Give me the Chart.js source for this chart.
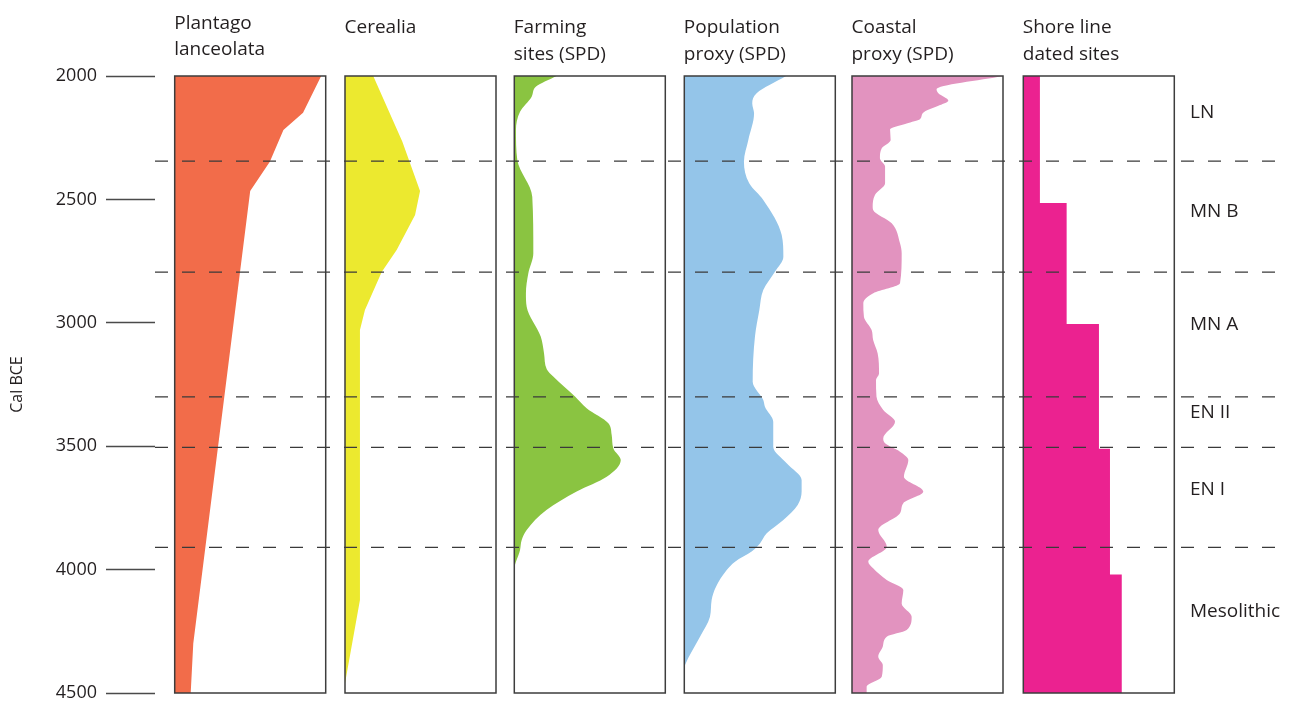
<!DOCTYPE html>
<html>
<head>
<meta charset="utf-8">
<script src="https://cdn.jsdelivr.net/npm/chart.js@4/dist/chart.umd.min.js"></script>
<style>
html,body{margin:0;padding:0;background:#fff;}
#wrap{position:relative;width:1291px;height:702px;}
canvas{display:block;}
</style>
</head>
<body>
<div id="wrap"><canvas id="c" width="1291" height="702"></canvas></div>
<script>
// ---------- DATA ----------
const yearTicks = [2000, 2500, 3000, 3500, 4000, 4500];
const axisTitle = 'Cal BCE';
const panelTitles = [
  ['Plantago', 'lanceolata'],
  ['Cerealia'],
  ['Farming', 'sites (SPD)'],
  ['Population', 'proxy (SPD)'],
  ['Coastal', 'proxy (SPD)'],
  ['Shore line', 'dated sites']
];
const periodBounds = [2345, 2795, 3300, 3505, 3910];
const periodNames = ['LN', 'MN B', 'MN A', 'EN II', 'EN I', 'Mesolithic'];
const periodLabelYears = [2150, 2551, 3009, 3365, 3677, 4172];

// values are % of panel width
const plantagoYears  = [2000, 2149, 2219, 2347, 2466, 4299, 4500];
const plantagoValues = [97, 85, 72, 63, 50, 12.3, 10.6];

const cerealiaYears  = [2000, 2266, 2466, 2563, 2705, 2794, 2948, 3029, 4123, 4461, 4500];
const cerealiaValues = [18.7, 38, 49.7, 46.4, 34.2, 24.3, 13.2, 9.9, 9.9, 0, 0];

const farmingYears  = [2000, 2043, 2084, 2145, 2219, 2340, 2489, 2718, 2799, 2880, 2935, 3056, 3124, 3188, 3218, 3299, 3346, 3407, 3455, 3509, 3556, 3624, 3684, 3758, 3840, 3880, 3921, 4002, 4500];
const farmingValues = [28, 14.4, 11.5, 3.8, 1.1, 2, 11.9, 12.6, 9.3, 7.7, 8.2, 17.5, 19.7, 21.5, 25.8, 40.2, 47.9, 62.3, 64.5, 65.6, 70.5, 61.2, 41.3, 21.5, 8.2, 4.9, 3.8, 0, 0];

const populationYears  = [2000, 2070, 2111, 2151, 2259, 2347, 2435, 2502, 2644, 2732, 2793, 2867, 2948, 3056, 3239, 3313, 3340, 3401, 3502, 3569, 3637, 3684, 3738, 3799, 3853, 3894, 3927, 3968, 4002, 4069, 4123, 4191, 4272, 4387, 4400, 4500];
const populationValues = [67.4, 47.9, 45, 46.2, 42.4, 39.5, 43, 52.3, 64.5, 65.6, 60, 52.3, 49.7, 46.8, 45.3, 52.3, 53.4, 58.9, 58.9, 67.8, 77.7, 77.7, 75.1, 65.6, 54.6, 50.1, 44.6, 33.6, 28.1, 21, 18.1, 17, 10.4, 0.5, 0, 0];

const coastalYears  = [2000, 2054, 2070, 2100, 2118, 2151, 2175, 2192, 2216, 2259, 2293, 2333, 2367, 2435, 2482, 2530, 2543, 2597, 2678, 2718, 2840, 2880, 2921, 2975, 3029, 3070, 3124, 3205, 3232, 3299, 3353, 3401, 3468, 3488, 3522, 3556, 3624, 3684, 3731, 3772, 3840, 3907, 3968, 3995, 4042, 4083, 4137, 4191, 4245, 4272, 4312, 4353, 4387, 4434, 4474, 4500];
const coastalValues = [100, 56, 57.2, 63.8, 58.3, 46.8, 45, 36.2, 25.2, 25.6, 19.7, 18.5, 21.9, 21.9, 15.2, 13.7, 14, 26.3, 31.8, 32.9, 31.8, 14.1, 7.5, 7.9, 13, 14, 17, 17.9, 15.9, 16.2, 20.7, 28.5, 20.7, 21.9, 31.8, 37.3, 34.4, 47.2, 34, 31.8, 17.4, 23, 10.8, 14, 23, 34, 32.9, 39.5, 36.2, 23, 20.4, 17.4, 20.4, 19.7, 9.7, 9.7];

const shoreYears  = [2000, 2515, 3005, 3510, 4020, 4500];
const shoreValues = [11, 28.7, 50.1, 57.4, 65.2, 65.2];

// ---------- STYLE / LAYOUT ----------
const colors = ['#F26C4A', '#ECE92F', '#8AC441', '#94C5E9', '#E293BF', '#EB2290'];
const panelLeftPx = [174.7, 345, 514.3, 684.3, 852, 1023.3];
const areaLeftPx = 155, areaRightPx = 1285, panelWidthPx = 151;
const unit = panelWidthPx / 100;
const panelOffset = panelLeftPx.map(p => (p - areaLeftPx) / unit);
const xMax = (areaRightPx - areaLeftPx) / unit;
const FONT = '"Open Sans", "Noto Sans", sans-serif';
const TEXT = '#231f20';

function series(years, values, i) {
  return years.map((yr, k) => ({ x: panelOffset[i] + values[k], y: yr }));
}
function ds(years, values, i, extra) {
  return Object.assign({
    data: series(years, values, i),
    fill: { value: panelOffset[i] },
    backgroundColor: colors[i],
    borderWidth: 0,
    pointRadius: 0,
    pointHoverRadius: 0,
    tension: 0
  }, extra || {});
}

const decor = {
  id: 'decor',
  afterDatasetsDraw(chart) {
    const { ctx, chartArea } = chart;
    const y = chart.scales.y, x = chart.scales.x;
    ctx.save();
    // panel boxes
    ctx.strokeStyle = '#3d3d3d';
    ctx.lineWidth = 1.5;
    const top = y.getPixelForValue(2000), bot = y.getPixelForValue(4500);
    panelOffset.forEach(off => {
      const l = x.getPixelForValue(off), r = x.getPixelForValue(off + 100);
      ctx.strokeRect(l, top, r - l, bot - top);
    });
    // period boundaries
    ctx.setLineDash([13, 14]);
    ctx.lineDashOffset = 0;
    ctx.strokeStyle = '#3a3a3a';
    ctx.lineWidth = 1.2;
    periodBounds.forEach(yr => {
      const py = y.getPixelForValue(yr);
      ctx.beginPath();
      ctx.moveTo(chartArea.left, py);
      ctx.lineTo(chartArea.right, py);
      ctx.stroke();
    });
    ctx.setLineDash([]);
    // titles
    ctx.fillStyle = TEXT;
    ctx.font = '19px ' + FONT;
    ctx.textAlign = 'left';
    ctx.textBaseline = 'alphabetic';
    panelTitles.forEach((lines, i) => {
      const px = x.getPixelForValue(panelOffset[i]);
      const b0 = i === 0 ? 28.5 : 32.5;
      const lh = i === 0 ? 26.7 : 27.3;
      lines.forEach((t, k) => ctx.fillText(t, px - 0.5, b0 + k * lh));
    });
    // period labels
    ctx.textBaseline = 'middle';
    periodNames.forEach((t, k) => {
      ctx.fillText(t, 1190, y.getPixelForValue(periodLabelYears[k]));
    });
    ctx.restore();
  }
};

function draw() {
  new Chart(document.getElementById('c'), {
    type: 'line',
    data: {
      datasets: [
        ds(plantagoYears, plantagoValues, 0),
        ds(cerealiaYears, cerealiaValues, 1),
        ds(farmingYears, farmingValues, 2, { cubicInterpolationMode: 'monotone' }),
        ds(populationYears, populationValues, 3, { cubicInterpolationMode: 'monotone' }),
        ds(coastalYears, coastalValues, 4, { cubicInterpolationMode: 'monotone' }),
        ds(shoreYears, shoreValues, 5, { stepped: 'after' })
      ]
    },
    options: {
      indexAxis: 'y',
      responsive: false,
      animation: false,
      devicePixelRatio: 1,
      events: [],
      layout: { padding: { top: 76, bottom: 9, left: 0, right: 6 } },
      plugins: { legend: { display: false }, tooltip: { enabled: false } },
      scales: {
        x: { type: 'linear', min: 0, max: xMax, display: false },
        y: {
          type: 'linear',
          reverse: true,
          min: 2000,
          max: 4500,
          afterBuildTicks: s => { s.ticks = yearTicks.map(v => ({ value: v })); },
          afterFit: s => { s.width = areaLeftPx; s.paddingTop = 0; s.paddingBottom = 0; },
          ticks: {
            font: { family: FONT, size: 18, lineHeight: 1 },
            color: TEXT,
            padding: 9,
            callback: v => String(v)
          },
          grid: { drawOnChartArea: false, drawTicks: true, tickLength: 49, tickColor: '#4a4a4a', tickWidth: 1.3 },
          border: { display: false },
          title: { display: true, text: axisTitle, font: { family: FONT, size: 16 }, color: TEXT, padding: { top: 8, bottom: 0 } }
        }
      }
    },
    plugins: [decor]
  });
}
if (document.fonts && document.fonts.load) {
  Promise.all([document.fonts.load('19px "Open Sans"'), document.fonts.load('16px "Open Sans"')]).then(draw, draw);
} else { draw(); }
</script>
</body>
</html>
